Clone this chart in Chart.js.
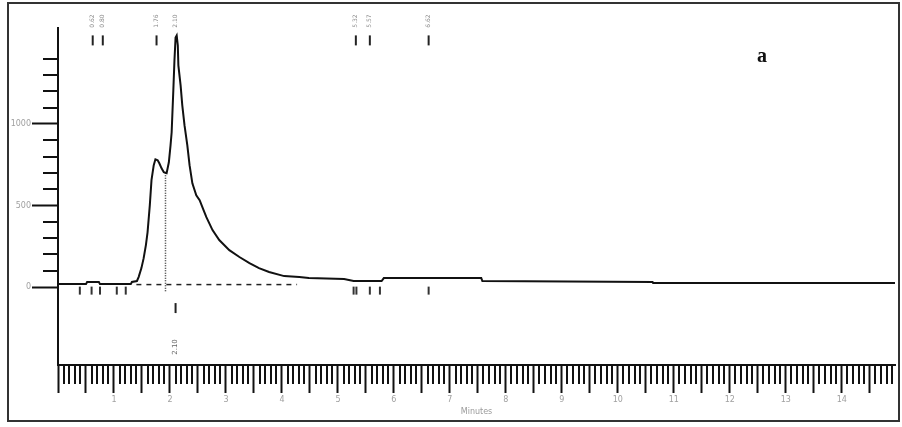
<!DOCTYPE html>
<html>
<head>
<meta charset="utf-8">
<script src="https://cdn.jsdelivr.net/npm/chart.js@4/dist/chart.umd.min.js"></script>
<style>
  html, body { margin: 0; padding: 0; background: #fff; }
  canvas { display: block; }
</style>
</head>
<body>
<canvas id="chrom" width="902" height="427"></canvas>
<script>
// Detector trace: retention time (min) and signal
const retentionTime = [
  0.00, 0.50, 0.52, 0.73, 0.75, 1.30, 1.32, 1.41, 1.44, 1.49, 1.53, 1.57, 1.60,
  1.64, 1.67, 1.71, 1.74, 1.78, 1.81, 1.85, 1.89, 1.94, 1.98, 2.01, 2.03, 2.06,
  2.08, 2.10, 2.12, 2.14, 2.15, 2.19, 2.22, 2.26, 2.31, 2.35, 2.40, 2.47, 2.53,
  2.60, 2.65, 2.76, 2.88, 3.06, 3.24, 3.42, 3.59, 3.77, 4.04, 4.31, 4.48, 5.11,
  5.28, 5.78, 5.82, 7.56, 7.58, 10.62, 10.63, 14.95
];
const signal = [
  18, 18, 31, 31, 18, 18, 31, 37, 61, 116, 177, 257, 337,
  502, 655, 747, 783, 777, 759, 728, 704, 698, 765, 869, 949, 1206,
  1389, 1530, 1542, 1481, 1359, 1236, 1114, 991, 869, 747, 636, 563, 532,
  471, 428, 349, 288, 226, 184, 147, 116, 92, 67, 61, 55, 49,
  37, 37, 55, 55, 37, 31, 24, 24
];

// Integration baseline and drop line between the two co-eluting peaks
const baselineTime = [1.40, 4.27];
const baselineSignal = [15, 15];
const dropTime = [1.92, 1.92];
const dropSignal = [700, -30];

// Peak annotations along the top
const peakTimes = [0.62, 0.80, 1.76, 2.10, 5.32, 5.57, 6.62];
const peakLabels = ['0.62', '0.80', '1.76', '2.10', '5.32', '5.57', '6.62'];
const topMarkTimes = [0.62, 0.80, 1.76, 5.32, 5.57, 6.62];

// Integration event marks below the trace
const eventTimes = [0.39, 0.60, 0.75, 1.05, 1.21, 5.28, 5.33, 5.57, 5.75, 6.62];
const mainPeakTime = [2.10];
const mainPeakLabel = '2.10';

// Axis ticks
const yMajorTicks = [0, 500, 1000];
const yMinorTicks = [100, 200, 300, 400, 600, 700, 800, 900, 1100, 1200, 1300, 1400];
const xAxisTitle = 'Minutes';
const panelLetter = 'a';

const X_MIN = 0, X_MAX = 14.95, Y_MIN = -478, Y_MAX = 1588;

const toPoints = (xs, ys) => xs.map((t, i) => ({ x: t, y: ys[i] }));
const atLevel = (xs, level) => xs.map(t => ({ x: t, y: level }));

const tickMark = (data, r, color) => ({
  type: 'scatter', data, showLine: false,
  pointStyle: 'line', rotation: 90, pointRadius: r, pointHoverRadius: r,
  borderColor: color, borderWidth: 2, backgroundColor: color
});

const decor = {
  id: 'decor',
  afterDraw(chart) {
    const { ctx, scales: { x, y }, chartArea } = chart;
    ctx.save();
    // outer frame
    ctx.strokeStyle = '#333';
    ctx.lineWidth = 2;
    ctx.strokeRect(8, 3, 891, 418);

    // minor ticks on the time axis
    ctx.strokeStyle = '#111';
    ctx.lineWidth = 2;
    for (let i = 1; i / 10 <= X_MAX; i++) {
      if (i % 5 === 0) continue;
      const px = Math.round(x.getPixelForValue(i / 10));
      ctx.beginPath();
      ctx.moveTo(px, chartArea.bottom);
      ctx.lineTo(px, chartArea.bottom + 19);
      ctx.stroke();
    }
    // minor ticks on the signal axis
    yMinorTicks.forEach(v => {
      const py = Math.round(y.getPixelForValue(v));
      ctx.beginPath();
      ctx.moveTo(chartArea.left - 15, py);
      ctx.lineTo(chartArea.left, py);
      ctx.stroke();
    });

    // peak labels (rotated)
    ctx.fillStyle = '#8a8a8a';
    ctx.font = '6px "DejaVu Sans"';
    ctx.textAlign = 'center';
    ctx.textBaseline = 'middle';
    peakTimes.forEach((t, i) => {
      const px = x.getPixelForValue(t);
      ctx.save();
      ctx.translate(px, 21);
      ctx.rotate(-Math.PI / 2);
      ctx.fillText(peakLabels[i], 0, 0);
      ctx.restore();
    });
    // label under main peak
    ctx.save();
    ctx.font = '7px "DejaVu Sans"';
    ctx.fillStyle = '#666';
    ctx.translate(x.getPixelForValue(mainPeakTime[0]), 347);
    ctx.rotate(-Math.PI / 2);
    ctx.fillText(mainPeakLabel, 0, 0);
    ctx.restore();

    // axis title
    ctx.fillStyle = '#9a9a9a';
    ctx.font = '8px "DejaVu Sans"';
    ctx.fillText(xAxisTitle, (chartArea.left + chartArea.right) / 2, 412);

    // panel letter
    ctx.fillStyle = '#111';
    ctx.font = 'bold 20px "Liberation Serif"';
    ctx.fillText(panelLetter, 762, 57);
    ctx.restore();
  }
};

new Chart(document.getElementById('chrom'), {
  type: 'line',
  data: {
    datasets: [
      {
        data: toPoints(retentionTime, signal),
        borderColor: '#111', borderWidth: 2, pointRadius: 0, tension: 0, fill: false
      },
      {
        data: toPoints(baselineTime, baselineSignal),
        borderColor: '#222', borderWidth: 1.5, borderDash: [5, 5], pointRadius: 0
      },
      {
        data: toPoints(dropTime, dropSignal),
        borderColor: '#333', borderWidth: 1.5, borderDash: [1, 1.5], pointRadius: 0
      },
      tickMark(atLevel(topMarkTimes, 1512), 5, '#222'),
      tickMark(atLevel(eventTimes, -22), 4, '#333'),
      tickMark(atLevel(mainPeakTime, -129), 5, '#222')
    ]
  },
  options: {
    responsive: false,
    animation: false,
    events: [],
    layout: { padding: { top: 28, left: 8, right: 4, bottom: 0 } },
    plugins: { legend: { display: false }, tooltip: { enabled: false } },
    scales: {
      x: {
        type: 'linear', min: X_MIN, max: X_MAX,
        afterFit: s => { s.height = 62; },
        afterBuildTicks: s => {
          const ticks = [];
          for (let v = 0; v <= X_MAX + 1e-9; v += 0.5) ticks.push({ value: Math.round(v * 10) / 10 });
          s.ticks = ticks;
        },
        ticks: {
          autoSkip: false, maxRotation: 0, padding: 2,
          color: '#a0a0a0', font: { family: 'DejaVu Sans', size: 8 },
          callback: v => (v > 0 && Number.isInteger(v)) ? String(v) : ''
        },
        grid: { drawOnChartArea: false, tickLength: 28, tickWidth: 2, tickColor: '#111' },
        border: { display: true, color: '#111', width: 2 }
      },
      y: {
        type: 'linear', min: Y_MIN, max: Y_MAX,
        afterFit: s => { s.width = 50; },
        afterBuildTicks: s => { s.ticks = yMajorTicks.map(v => ({ value: v })); },
        ticks: {
          padding: 1, color: '#a0a0a0', font: { family: 'DejaVu Sans', size: 8 },
          callback: v => String(v)
        },
        grid: { drawOnChartArea: false, tickLength: 26, tickWidth: 2, tickColor: '#111' },
        border: { display: true, color: '#111', width: 2 }
      }
    }
  },
  plugins: [decor]
});
</script>
</body>
</html>
